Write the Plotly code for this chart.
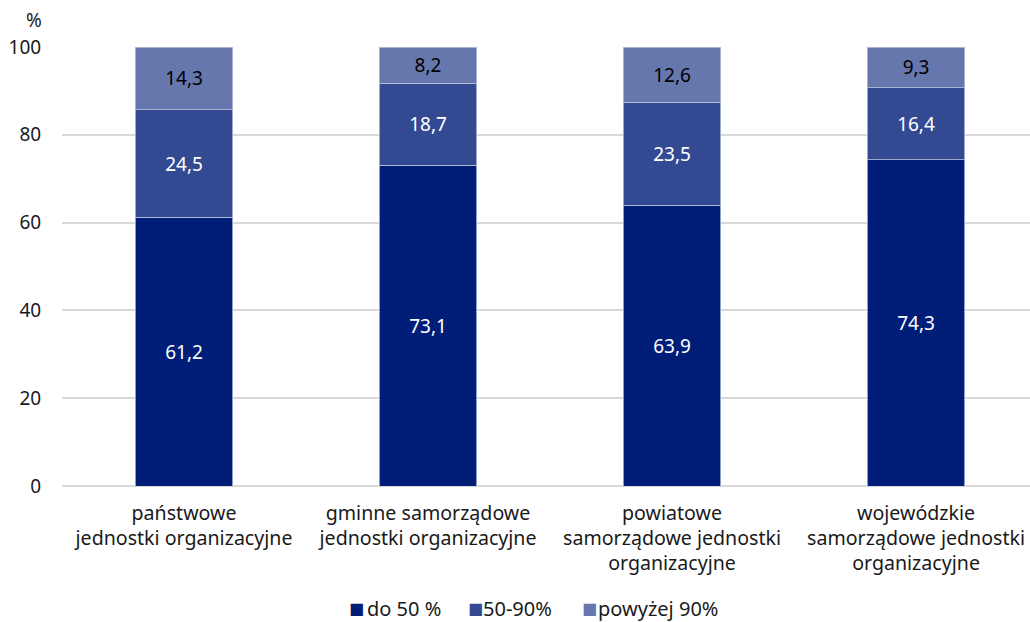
import plotly.graph_objects as go

categories = ["państwowe<br>jednostki organizacyjne",
              "gminne samorządowe<br>jednostki organizacyjne",
              "powiatowe<br>samorządowe jednostki<br>organizacyjne",
              "wojewódzkie<br>samorządowe jednostki<br>organizacyjne"]
do50 = [61.2, 73.1, 63.9, 74.3]
s50_90 = [24.5, 18.7, 23.5, 16.4]
pow90 = [14.3, 8.2, 12.6, 9.3]
series_names = ["do 50 %", "50-90%", "powyżej 90%"]
colors = ["#001E78", "#334A93", "#6677AD"]
text_colors = ["white", "white", "black"]

FONT = "Noto Sans"
FS = 19

def fmt(v):
    return f"{v:.1f}".replace(".", ",")

fig = go.Figure()
for name, vals, c, tc in zip(series_names, [do50, s50_90, pow90], colors, text_colors):
    fig.add_trace(go.Bar(
        x=categories, y=vals, name=name,
        marker=dict(color=c, line=dict(color="#B8C0DA", width=0.8)),
        text=[fmt(v) for v in vals], textposition="inside",
        insidetextanchor="middle",
        textfont=dict(family=FONT, size=FS, color=tc),
        hoverinfo="skip", showlegend=False,
    ))

fig.update_layout(
    barmode="stack",
    bargap=0.6,
    width=1030, height=622,
    margin=dict(l=62, r=0, t=47, b=136),
    plot_bgcolor="white", paper_bgcolor="white",
    font=dict(family=FONT, size=FS, color="#1a1a1a"),
    uniformtext=dict(mode=False),
    showlegend=False,
    yaxis=dict(range=[0, 100], dtick=20, showgrid=True, gridcolor="#D9D9D9",
               gridwidth=1.5, zeroline=True, zerolinecolor="#D9D9D9", zerolinewidth=1.5,
               tickfont=dict(family=FONT, size=FS), ticks="outside", ticklen=16,
               tickcolor="rgba(0,0,0,0)", showline=False, fixedrange=True,
               automargin=False),
    xaxis=dict(tickfont=dict(family=FONT, size=19.6), showline=False, ticks="outside",
               ticklen=9, tickcolor="rgba(0,0,0,0)", range=[-0.5, 3.467],
               automargin=False),
)
fig.add_annotation(text="%", xref="paper", yref="paper", x=-0.029, y=1.0615,
                   xanchor="center", yanchor="middle", showarrow=False,
                   font=dict(family=FONT, size=FS))

# legend drawn as text: coloured squares and labels
def px_to_paper(px):
    return (px - 62) / 968.0

legend_y = -0.279
square_x = [348, 467, 581]
text_x = [366, 482, 597]
for sx, tx, name, c in zip(square_x, text_x, series_names, colors):
    fig.add_annotation(text="■", xref="paper", yref="paper", x=px_to_paper(sx - 1),
                       y=legend_y, xanchor="left", yanchor="middle", showarrow=False,
                       font=dict(family="DejaVu Sans", size=16, color=c))
    fig.add_annotation(text=name, xref="paper", yref="paper", x=px_to_paper(tx - 1),
                       y=legend_y, xanchor="left", yanchor="middle", showarrow=False,
                       font=dict(family=FONT, size=20))

fig.write_html(
    "out.html",
    config={"displayModeBar": False},
    post_script="document.body.style.margin='0';document.documentElement.style.overflow='hidden';",
)
